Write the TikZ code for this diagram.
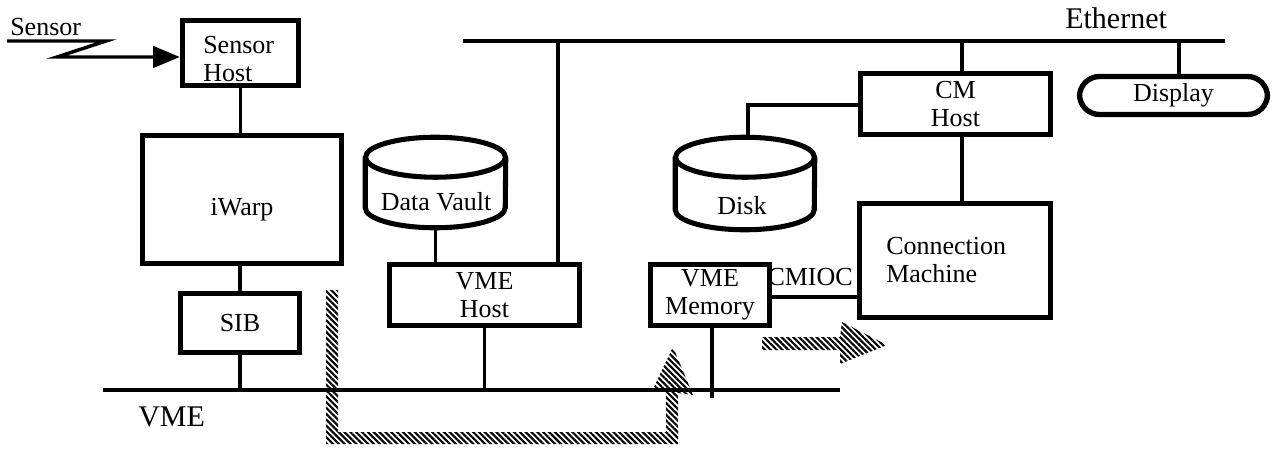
\documentclass[tikz,border=0pt]{standalone}
\usepackage{fontspec}
\setmainfont{Liberation Serif}
\usetikzlibrary{arrows.meta,patterns.meta,calc}
\newcommand\dgfont{\fontsize{19.5}{21}\selectfont}
\newcommand\dgbig{\fontsize{22.5}{24}\selectfont}
\begin{document}
\begin{tikzpicture}[x=0.75pt,y=-0.75pt,
  box/.style={draw, line width=4pt, inner sep=0pt, align=center, font=\dgfont},
  bx/.style n args={2}{minimum width=#1*0.75pt, minimum height=#2*0.75pt},
  ghost/.style={inner sep=0pt, align=center, font=\dgfont},
  lbl/.style={inner sep=0pt, align=left, font=\dgfont},
  wire/.style={line width=2.3pt},
  cyl/.style={line width=3.8pt},
  hatch/.style={pattern={Lines[angle=-45,distance=3.1pt,line width=1.6pt]}}
]
\useasboundingbox (0,0) rectangle (1279,450);

% boxes
\node[box,bx={116}{65}] (sh) at (240.5,53) {};
\node[lbl,anchor=base west] (shtxt) at (203,81) {Sensor\\Host};
\node[box,bx={199}{128}] (iw) at (242,199.5) {};
\node[ghost,anchor=base] (iwtxt) at (242,215) {iWarp};
\node[box,bx={119}{59}] (sib) at (240,323) {SIB};
\node[box,bx={190}{61}] (vh) at (484.5,295) {VME\\Host};
\node[box,bx={119}{61}] (vm) at (710,295) {VME\\Memory};
\node[box,bx={191}{114}] (cm) at (955,260.5) {};
\node[lbl,anchor=base west] (cmtxt) at (886,282) {Connection\\Machine};
\node[box,bx={190}{61}] (cmh) at (955.5,104) {CM\\Host};
\node[box,bx={188}{38},rounded corners=15pt] (disp) at (1173.5,95.5) {Display};

% cylinders
\node[ghost,minimum width=140*0.75pt,minimum height=90*0.75pt] (dv) at (435.5,182.5) {};
\node[ghost,minimum width=139*0.75pt,minimum height=92*0.75pt] (dk) at (745,183.5) {};
\draw[cyl] ($(dv.north west)+(0,20)$) -- ($(dv.south west)+(0,-20)$)
  arc[start angle=180,end angle=0,x radius=70,y radius=20] -- ($(dv.north east)+(0,20)$);
\draw[cyl] ($(dv.north)+(0,20)$) ellipse [x radius=70,y radius=20];
\node[ghost,anchor=base] (dvtxt) at (436,210) {Data Vault};
\draw[cyl] ($(dk.north west)+(0,20)$) -- ($(dk.south west)+(0,-20)$)
  arc[start angle=180,end angle=0,x radius=69.5,y radius=20] -- ($(dk.north east)+(0,20)$);
\draw[cyl] ($(dk.north)+(0,20)$) ellipse [x radius=69.5,y radius=20];
\node[ghost,anchor=base] (dktxt) at (742,214) {Disk};

% Ethernet
\coordinate (e1) at (463,41);
\coordinate (e2) at (1225,41);
\coordinate (eA) at (558,41);
\coordinate (eB) at (962,41);
\coordinate (eC) at (1179,41);
\draw[wire] (e1) -- (e2);
\node[inner sep=0pt,font=\dgbig,anchor=base west] (eth) at (1065,28) {Ethernet};
\draw[wire] (eA) -- (eA |- vh.north);
\draw[wire] (eB) -- (eB |- cmh.north);
\draw[wire] (eC) -- (eC |- disp.north);

% VME bus
\coordinate (v1) at (103,390);
\coordinate (v2) at (840,390);
\draw[wire] (v1) -- (v2);
\node[inner sep=0pt,font=\dgbig,anchor=base west] (vme) at (138,426) {VME};

% connections
\draw[wire] (sh.south) -- (sh.south |- iw.north);
\draw[wire] (sib.north |- iw.south) -- (sib.north);
\draw[wire] (sib.south) -- (sib.south |- v1);
\draw[wire] (dv.south) -- (dv.south |- vh.north);
\draw[wire] (vh.south) -- (vh.south |- v1);
\coordinate (vmb) at (712,398);
\draw[wire] (vm.south -| vmb) -- (vmb);
\draw[wire] (cmh.south -| eB) -- (eB |- cm.north);
\coordinate (dkc) at (748,105);
\draw[wire] (cmh.west |- dkc) -- (dkc) -- (dkc |- dk.north);
\coordinate (cmi) at (772,297);
\draw[wire] (cmi) -- (cmi -| cm.west);
\node[inner sep=0pt,font=\dgfont,anchor=base east] (cmioc) at (853,285) {CMIOC};

% sensor input
\node[inner sep=0pt,font=\dgfont,anchor=base west] (sens) at (10,35) {Sensor};
\coordinate (s1) at (7,41);
\coordinate (s2) at (106,41);
\coordinate (s3) at (57,57);
\draw[line width=2.6pt,-{Triangle[length=20pt,width=16pt]}] (s1) -- (s2) -- (s3) -- (s3 -| sh.west);

% hatched flows
\path[hatch] (326,290) -- (338,290) -- (338,432) -- (666,432) -- (666,392) -- (652,391)
  -- (673,347) -- (693,395) -- (678,393) -- (678,444) -- (326,444) -- cycle;
\path[hatch] (762,337) -- (840,337) -- (842,322) -- (887,345) -- (840,364) -- (840,350)
  -- (762,350) -- cycle;
\end{tikzpicture}
\end{document}
